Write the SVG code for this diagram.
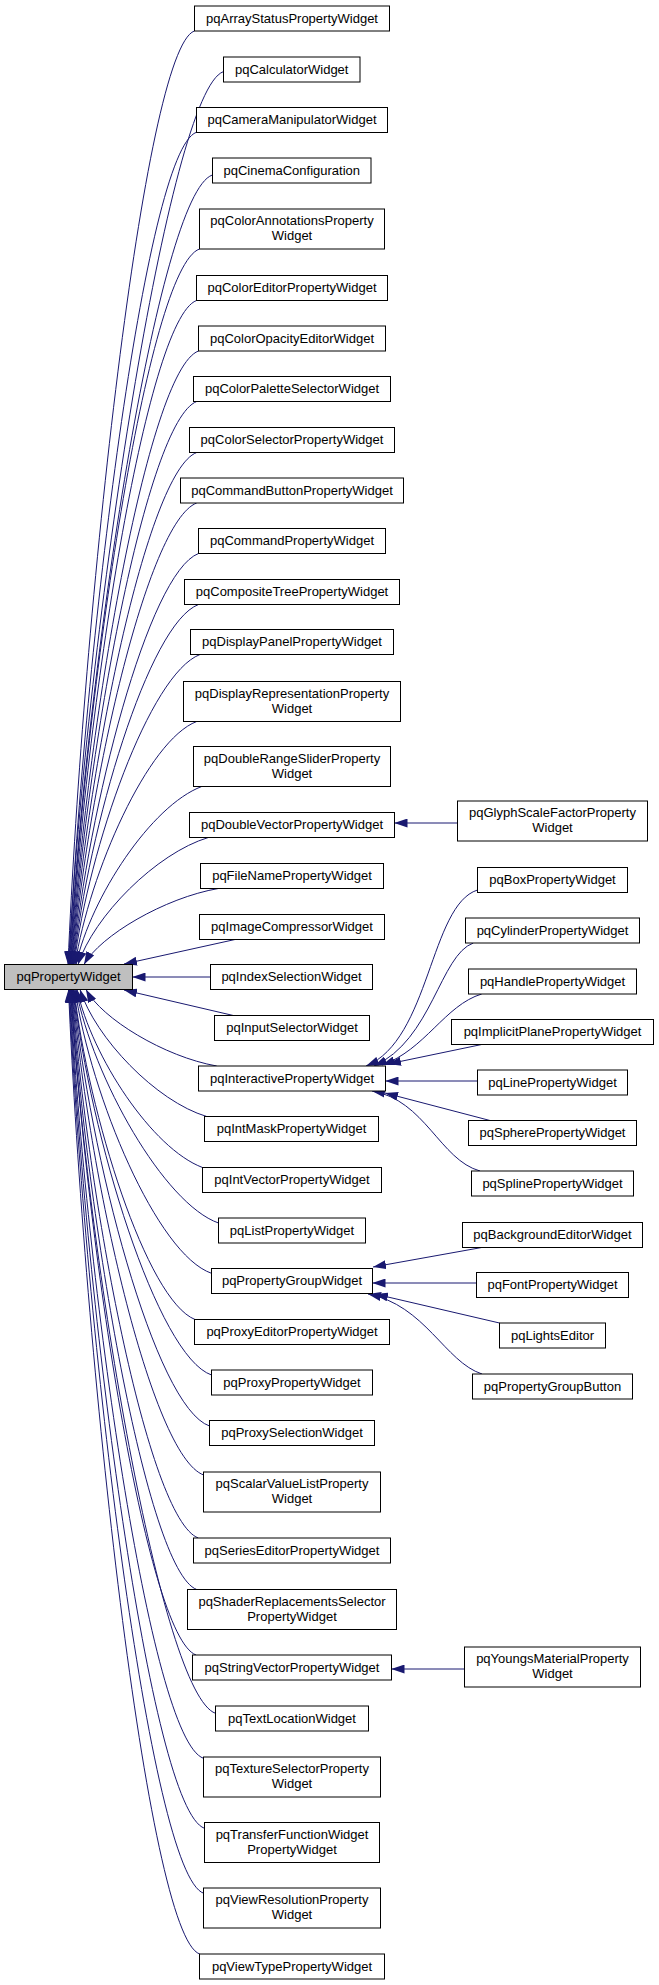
<svg xmlns="http://www.w3.org/2000/svg" width="659" height="1985" viewBox="0 0 659 1985">
<style>
.n rect{fill:#fff;stroke:#000;stroke-width:1}
.r rect{fill:#bfbfbf;stroke:#000;stroke-width:1}
text{font-family:"Liberation Sans",Arial,Helvetica,sans-serif;font-size:13px;text-anchor:middle;fill:#000}
.e path{fill:none;stroke:#191970;stroke-width:1;marker-end:url(#a)}
</style>
<defs>
<marker id="a" markerUnits="userSpaceOnUse" markerWidth="13" markerHeight="9" refX="13" refY="4.5" orient="auto" viewBox="0 0 13 9"><path d="M0,0 L13,4.5 L0,9 Z" fill="#191970"/></marker>
</defs>
<rect width="659" height="1985" fill="#fff"/>
<g class="e" id="edges">
<path d="M194.3,31 C143.8,50 83.2,609.8 68,964.5"/>
<path d="M223.3,71.7 C169.3,90.7 87.1,625.2 68.5,964.5"/>
<path d="M196.3,132.3 C145.4,151.3 84.3,648.3 69,964.5"/>
<path d="M212.3,175 C158.3,194 86.6,664.5 69.5,964.5"/>
<path d="M199.5,249 C147.4,267.5 85.5,692.4 70,964.5"/>
<path d="M196.5,300.5 C146.1,319.5 85.6,712.2 70.5,964.5"/>
<path d="M198.5,351 C147.4,370 86.3,731.4 71,964.5"/>
<path d="M196.7,401.5 C146.6,421 86.5,750.8 71.5,964.5"/>
<path d="M196.7,452.5 C146.8,471.5 87,769.9 72,964.5"/>
<path d="M196.7,503 C147,522 87.4,789.1 72.5,964.5"/>
<path d="M198.5,553.5 C148.3,573 88.1,808.5 73,964.5"/>
<path d="M198.5,604.5 C148.5,623.5 88.5,827.7 73.5,964.5"/>
<path d="M200,654.5 C149.6,674 89.1,846.9 74,964.5"/>
<path d="M196.7,721.5 C148,740 89.6,872 75,964.5"/>
<path d="M201.7,786.5 C151.4,805.5 91.1,896.9 76,964.5"/>
<path d="M208.3,837.5 C156.2,853.2 93.6,916.4 78,964.5"/>
<path d="M218.3,888.5 C164.6,897.8 100.1,935.7 84,964.5"/>
<path d="M235,939.5 L124,964"/>
<path d="M210.5,977 L132.5,977"/>
<path d="M233.3,1015.5 L124,990"/>
<path d="M216.7,1066 C164.4,1056.8 101.7,1018.6 86,989.5"/>
<path d="M206.7,1116.5 C156,1101.4 95.2,1037.8 80,989.5"/>
<path d="M202.5,1167.5 C152.2,1148.5 92,1057.1 77,989.5"/>
<path d="M218.5,1223 C164.3,1204 93.1,1078.2 76,989.5"/>
<path d="M211.5,1273.3 C157,1254.3 91.3,1097.3 75,989.5"/>
<path d="M195,1319.5 C146.6,1300 88.5,1114.7 74,989.5"/>
<path d="M211.5,1375 C157.3,1356 90,1136 73.5,989.5"/>
<path d="M209.5,1426 C155,1407 89.3,1155.4 73,989.5"/>
<path d="M203.7,1475 C151.2,1456 88.2,1174 72.5,989.5"/>
<path d="M198.3,1538 C147.8,1519 87.2,1197.9 72,989.5"/>
<path d="M196.7,1589.5 C146.6,1570.5 86.5,1217.5 71.5,989.5"/>
<path d="M196,1655 C146,1636 86,1242.4 71,989.5"/>
<path d="M215.5,1713.3 C161.7,1694.3 87.9,1264.5 70.5,989.5"/>
<path d="M203.5,1758.3 C149.8,1739.3 86,1281.6 70,989.5"/>
<path d="M204.5,1828.3 C150.4,1809.3 85.7,1308.3 69.5,989.5"/>
<path d="M203.7,1893.3 C149.8,1874.3 85.2,1332.9 69,989.5"/>
<path d="M199.7,1954 C147.2,1936 84.2,1356.4 68.5,989.5"/>
<path d="M457.5,823 L394.5,823"/>
<path d="M477.5,890 C430,905 430,1040 366,1066"/>
<path d="M473.3,943 C440,955 432,1040 374,1066"/>
<path d="M481.7,994 C445,1005 425,1050 382,1065"/>
<path d="M481.7,1044.5 L388,1064"/>
<path d="M477.5,1081 L385.5,1081"/>
<path d="M490,1120.5 L385,1093"/>
<path d="M480,1171 C440,1160 425,1100 372,1091"/>
<path d="M481.7,1247.5 L373,1267"/>
<path d="M476.5,1283 L372.5,1283"/>
<path d="M499.5,1323 L375,1294"/>
<path d="M482,1374 C445,1362 425,1305 368,1294"/>
<path d="M464.5,1669 L391.5,1669"/>
</g>
<g class="r" id="pqPropertyWidget"><rect x="4.5" y="964.5" width="128" height="25"/><text x="68.5" y="981">pqPropertyWidget</text></g>
<g class="n" id="pqArrayStatusPropertyWidget"><rect x="194.5" y="6" width="195" height="25"/><text x="292" y="22.5">pqArrayStatusPropertyWidget</text></g>
<g class="n" id="pqCalculatorWidget"><rect x="223.5" y="57" width="136.5" height="25"/><text x="291.75" y="73.5">pqCalculatorWidget</text></g>
<g class="n" id="pqCameraManipulatorWidget"><rect x="196.5" y="107.5" width="191" height="25"/><text x="292" y="124">pqCameraManipulatorWidget</text></g>
<g class="n" id="pqCinemaConfiguration"><rect x="212.5" y="158" width="158.5" height="25"/><text x="291.75" y="174.5">pqCinemaConfiguration</text></g>
<g class="n" id="pqColorAnnotationsPropertyWidget"><rect x="199.5" y="209" width="185" height="40"/><text x="292" y="225.3">pqColorAnnotationsProperty</text><text x="292" y="240.3">Widget</text></g>
<g class="n" id="pqColorEditorPropertyWidget"><rect x="196.5" y="275.5" width="191" height="25"/><text x="292" y="292">pqColorEditorPropertyWidget</text></g>
<g class="n" id="pqColorOpacityEditorWidget"><rect x="198.5" y="326" width="187" height="25"/><text x="292" y="342.5">pqColorOpacityEditorWidget</text></g>
<g class="n" id="pqColorPaletteSelectorWidget"><rect x="193.5" y="376.5" width="197" height="25"/><text x="292" y="393">pqColorPaletteSelectorWidget</text></g>
<g class="n" id="pqColorSelectorPropertyWidget"><rect x="189.5" y="427.5" width="205" height="25"/><text x="292" y="444">pqColorSelectorPropertyWidget</text></g>
<g class="n" id="pqCommandButtonPropertyWidget"><rect x="180.5" y="478" width="223" height="25"/><text x="292" y="494.5">pqCommandButtonPropertyWidget</text></g>
<g class="n" id="pqCommandPropertyWidget"><rect x="198.5" y="528.5" width="187" height="25"/><text x="292" y="545">pqCommandPropertyWidget</text></g>
<g class="n" id="pqCompositeTreePropertyWidget"><rect x="184.5" y="579.5" width="215" height="25"/><text x="292" y="596">pqCompositeTreePropertyWidget</text></g>
<g class="n" id="pqDisplayPanelPropertyWidget"><rect x="190.5" y="629.5" width="203" height="25"/><text x="292" y="646">pqDisplayPanelPropertyWidget</text></g>
<g class="n" id="pqDisplayRepresentationPropertyWidget"><rect x="183.5" y="681.5" width="217" height="40"/><text x="292" y="697.8">pqDisplayRepresentationProperty</text><text x="292" y="712.8">Widget</text></g>
<g class="n" id="pqDoubleRangeSliderPropertyWidget"><rect x="193.5" y="746.5" width="197" height="40"/><text x="292" y="762.8">pqDoubleRangeSliderProperty</text><text x="292" y="777.8">Widget</text></g>
<g class="n" id="pqDoubleVectorPropertyWidget"><rect x="189.5" y="812.5" width="205" height="25"/><text x="292" y="829">pqDoubleVectorPropertyWidget</text></g>
<g class="n" id="pqFileNamePropertyWidget"><rect x="200.5" y="863.5" width="183" height="25"/><text x="292" y="880">pqFileNamePropertyWidget</text></g>
<g class="n" id="pqImageCompressorWidget"><rect x="199.5" y="914.5" width="185" height="25"/><text x="292" y="931">pqImageCompressorWidget</text></g>
<g class="n" id="pqIndexSelectionWidget"><rect x="210.5" y="964.5" width="162" height="25"/><text x="291.5" y="981">pqIndexSelectionWidget</text></g>
<g class="n" id="pqInputSelectorWidget"><rect x="214.5" y="1015.5" width="155" height="25"/><text x="292" y="1032">pqInputSelectorWidget</text></g>
<g class="n" id="pqInteractivePropertyWidget"><rect x="198.5" y="1066" width="187" height="25"/><text x="292" y="1082.5">pqInteractivePropertyWidget</text></g>
<g class="n" id="pqIntMaskPropertyWidget"><rect x="204.5" y="1116.5" width="174" height="25"/><text x="291.5" y="1133">pqIntMaskPropertyWidget</text></g>
<g class="n" id="pqIntVectorPropertyWidget"><rect x="202.5" y="1167.5" width="179" height="25"/><text x="292" y="1184">pqIntVectorPropertyWidget</text></g>
<g class="n" id="pqListPropertyWidget"><rect x="218.5" y="1218" width="147" height="25"/><text x="292" y="1234.5">pqListPropertyWidget</text></g>
<g class="n" id="pqPropertyGroupWidget"><rect x="211.5" y="1268.5" width="161" height="25"/><text x="292" y="1285">pqPropertyGroupWidget</text></g>
<g class="n" id="pqProxyEditorPropertyWidget"><rect x="194.5" y="1319.5" width="195" height="25"/><text x="292" y="1336">pqProxyEditorPropertyWidget</text></g>
<g class="n" id="pqProxyPropertyWidget"><rect x="211.5" y="1370" width="161" height="25"/><text x="292" y="1386.5">pqProxyPropertyWidget</text></g>
<g class="n" id="pqProxySelectionWidget"><rect x="209.5" y="1420.5" width="165" height="25"/><text x="292" y="1437">pqProxySelectionWidget</text></g>
<g class="n" id="pqScalarValueListPropertyWidget"><rect x="203.5" y="1472" width="177" height="40"/><text x="292" y="1488.3">pqScalarValueListProperty</text><text x="292" y="1503.3">Widget</text></g>
<g class="n" id="pqSeriesEditorPropertyWidget"><rect x="193.5" y="1538" width="197" height="25"/><text x="292" y="1554.5">pqSeriesEditorPropertyWidget</text></g>
<g class="n" id="pqShaderReplacementsSelectorPropertyWidget"><rect x="187.5" y="1589.5" width="209" height="40"/><text x="292" y="1605.8">pqShaderReplacementsSelector</text><text x="292" y="1620.8">PropertyWidget</text></g>
<g class="n" id="pqStringVectorPropertyWidget"><rect x="192.5" y="1655" width="199" height="25"/><text x="292" y="1671.5">pqStringVectorPropertyWidget</text></g>
<g class="n" id="pqTextLocationWidget"><rect x="215.5" y="1706" width="153" height="25"/><text x="292" y="1722.5">pqTextLocationWidget</text></g>
<g class="n" id="pqTextureSelectorPropertyWidget"><rect x="203.5" y="1757" width="177" height="40"/><text x="292" y="1773.3">pqTextureSelectorProperty</text><text x="292" y="1788.3">Widget</text></g>
<g class="n" id="pqTransferFunctionWidgetPropertyWidget"><rect x="204.5" y="1822.5" width="175" height="40"/><text x="292" y="1838.8">pqTransferFunctionWidget</text><text x="292" y="1853.8">PropertyWidget</text></g>
<g class="n" id="pqViewResolutionPropertyWidget"><rect x="203.5" y="1888" width="177" height="40"/><text x="292" y="1904.3">pqViewResolutionProperty</text><text x="292" y="1919.3">Widget</text></g>
<g class="n" id="pqViewTypePropertyWidget"><rect x="199.5" y="1954" width="185" height="25"/><text x="292" y="1970.5">pqViewTypePropertyWidget</text></g>
<g class="n" id="pqGlyphScaleFactorPropertyWidget"><rect x="457.5" y="801" width="190" height="40"/><text x="552.5" y="817.3">pqGlyphScaleFactorProperty</text><text x="552.5" y="832.3">Widget</text></g>
<g class="n" id="pqBoxPropertyWidget"><rect x="477.5" y="867.5" width="150" height="25"/><text x="552.5" y="884">pqBoxPropertyWidget</text></g>
<g class="n" id="pqCylinderPropertyWidget"><rect x="465.5" y="918" width="174" height="25"/><text x="552.5" y="934.5">pqCylinderPropertyWidget</text></g>
<g class="n" id="pqHandlePropertyWidget"><rect x="468.5" y="969" width="168" height="25"/><text x="552.5" y="985.5">pqHandlePropertyWidget</text></g>
<g class="n" id="pqImplicitPlanePropertyWidget"><rect x="451.5" y="1019.5" width="202" height="25"/><text x="552.5" y="1036">pqImplicitPlanePropertyWidget</text></g>
<g class="n" id="pqLinePropertyWidget"><rect x="477.5" y="1070" width="150" height="25"/><text x="552.5" y="1086.5">pqLinePropertyWidget</text></g>
<g class="n" id="pqSpherePropertyWidget"><rect x="468.5" y="1120.5" width="168" height="25"/><text x="552.5" y="1137">pqSpherePropertyWidget</text></g>
<g class="n" id="pqSplinePropertyWidget"><rect x="471.5" y="1171" width="162" height="25"/><text x="552.5" y="1187.5">pqSplinePropertyWidget</text></g>
<g class="n" id="pqBackgroundEditorWidget"><rect x="462.5" y="1222.5" width="180" height="25"/><text x="552.5" y="1239">pqBackgroundEditorWidget</text></g>
<g class="n" id="pqFontPropertyWidget"><rect x="476.5" y="1272.5" width="152" height="25"/><text x="552.5" y="1289">pqFontPropertyWidget</text></g>
<g class="n" id="pqLightsEditor"><rect x="499.5" y="1323" width="106" height="25"/><text x="552.5" y="1339.5">pqLightsEditor</text></g>
<g class="n" id="pqPropertyGroupButton"><rect x="472.5" y="1374" width="160" height="25"/><text x="552.5" y="1390.5">pqPropertyGroupButton</text></g>
<g class="n" id="pqYoungsMaterialPropertyWidget"><rect x="464.5" y="1647" width="176" height="40"/><text x="552.5" y="1663.3">pqYoungsMaterialProperty</text><text x="552.5" y="1678.3">Widget</text></g>
</svg>
